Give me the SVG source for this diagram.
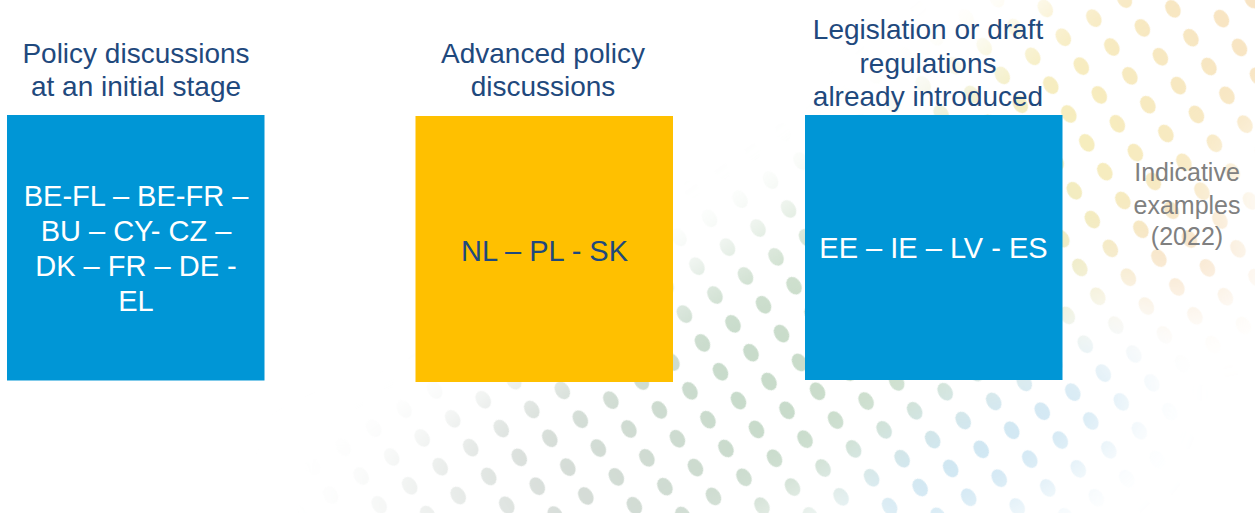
<svg xmlns="http://www.w3.org/2000/svg" width="1255" height="513" viewBox="0 0 1255 513">
  <style>
    .title { font-family: "Liberation Sans", Arial, sans-serif; font-size: 28px; fill: #1F497D; text-anchor: middle; }
    .boxtxt { font-family: "Liberation Sans", Arial, sans-serif; font-size: 29px; text-anchor: middle; }
    .white { fill: #FFFFFF; }
    .dark { fill: #1F497D; }
    .note { font-family: "Liberation Sans", Arial, sans-serif; font-size: 25px; fill: #808080; text-anchor: middle; }
    .blue { fill: #0096D6; }
    .yellow { fill: #FFC000; }
  </style>
  <defs>
    <pattern id="dots" patternUnits="userSpaceOnUse" width="36" height="34" patternTransform="rotate(-32)">
      <ellipse cx="18" cy="17" rx="7" ry="9.5" fill="#FFFFFF"/>
    </pattern>
    <mask id="dotmask" maskUnits="userSpaceOnUse" x="0" y="0" width="1255" height="513">
      <rect x="0" y="0" width="1255" height="513" fill="url(#dots)"/>
    </mask>
    <linearGradient id="bandgrad" gradientUnits="userSpaceOnUse" x1="320" y1="500" x2="1250" y2="0">
      <stop offset="0" stop-color="#ffffff"/>
      <stop offset="0.2" stop-color="#d6dcd8"/>
      <stop offset="0.42" stop-color="#c6dac9"/>
      <stop offset="0.62" stop-color="#d5e4cf"/>
      <stop offset="0.78" stop-color="#f7eebd"/>
      <stop offset="1" stop-color="#f8e3c4"/>
    </linearGradient>
    <filter id="soft" x="-30%" y="-30%" width="160%" height="160%">
      <feGaussianBlur stdDeviation="35"/>
    </filter>
  </defs>

  <rect x="0" y="0" width="1255" height="513" fill="#FFFFFF"/>

  <g id="background-dots" mask="url(#dotmask)">
    <g filter="url(#soft)">
      <path d="M 360 600 Q 830 400 1300 -60" fill="none" stroke="url(#bandgrad)" stroke-width="240"/>
      <ellipse cx="990" cy="450" rx="160" ry="60" transform="rotate(-30 990 450)" fill="#cfe6f3"/>
      <ellipse cx="1180" cy="250" rx="70" ry="50" fill="#f7e2c6"/>
    </g>
  </g>

  <g id="node-initial">
    <text class="title" x="136" y="63">Policy discussions</text>
    <text class="title" x="136" y="96">at an initial stage</text>
    <rect class="blue" x="7" y="115" width="257.5" height="265.5"/>
    <text class="boxtxt white" x="136" y="206">BE-FL – BE-FR –</text>
    <text class="boxtxt white" x="136" y="241">BU – CY- CZ –</text>
    <text class="boxtxt white" x="136" y="276">DK – FR – DE -</text>
    <text class="boxtxt white" x="136" y="311">EL</text>
  </g>

  <g id="node-advanced">
    <text class="title" x="543" y="63">Advanced policy</text>
    <text class="title" x="543" y="96">discussions</text>
    <rect class="yellow" x="415.5" y="116" width="257.5" height="266"/>
    <text class="boxtxt dark" x="544.5" y="260.5">NL – PL - SK</text>
  </g>

  <g id="node-legislation">
    <text class="title" x="928" y="39">Legislation or draft</text>
    <text class="title" x="928" y="72.5">regulations</text>
    <text class="title" x="928" y="106">already introduced</text>
    <rect class="blue" x="805" y="115" width="257.5" height="265"/>
    <text class="boxtxt white" x="933.5" y="258">EE – IE – LV - ES</text>
  </g>

  <g id="note">
    <text class="note" x="1187" y="181">Indicative</text>
    <text class="note" x="1187" y="213.5">examples</text>
    <text class="note" x="1187" y="245">(2022)</text>
  </g>

  <g id="connectors"/>
</svg>
